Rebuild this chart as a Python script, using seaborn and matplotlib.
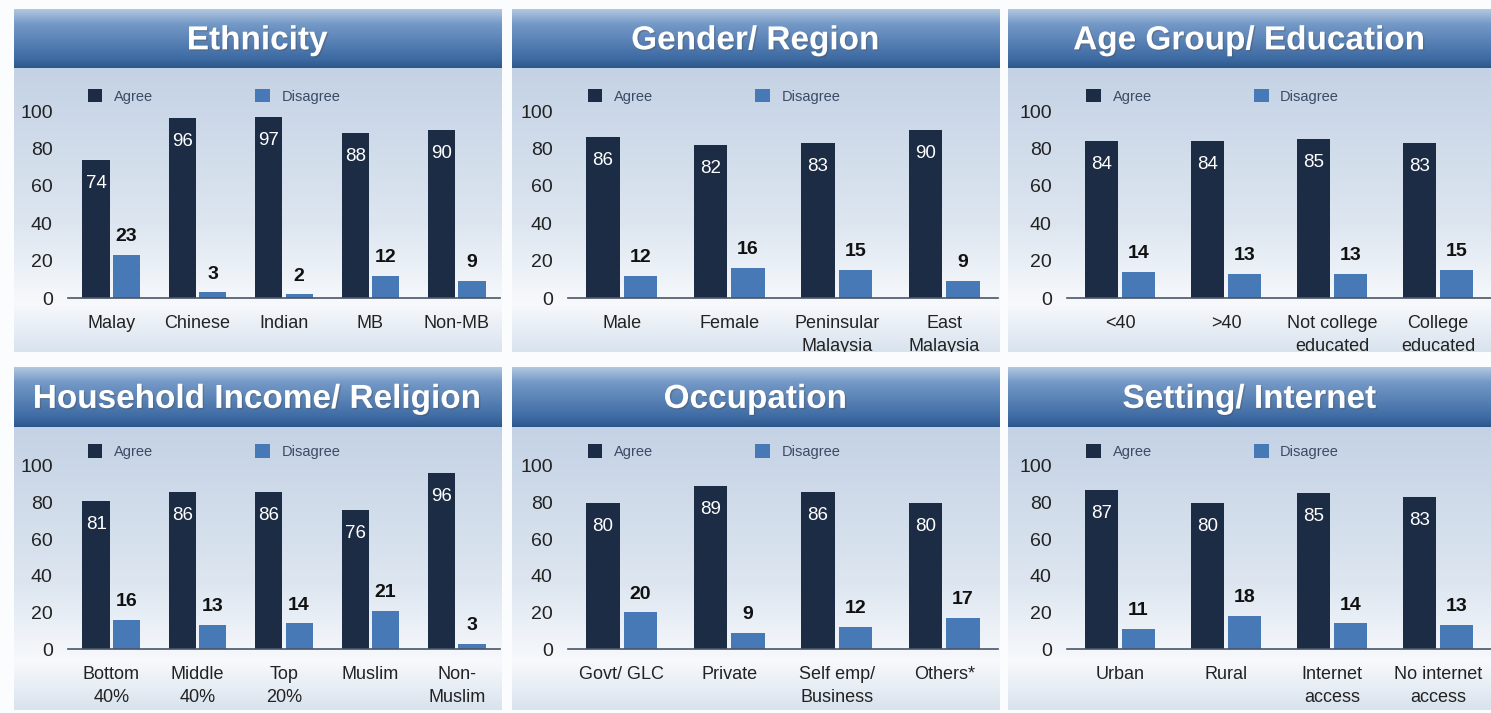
import matplotlib
matplotlib.use("Agg")
import matplotlib.pyplot as plt
import matplotlib.patheffects as pe
from matplotlib.colors import LinearSegmentedColormap
import numpy as np
import pandas as pd
import seaborn as sns

# --- data (% agree / % disagree) ---
ethnicity_cats = ["Malay", "Chinese", "Indian", "MB", "Non-MB"]
ethnicity_agree = [74, 96, 97, 88, 90]
ethnicity_disagree = [23, 3, 2, 12, 9]

gender_cats = ["Male", "Female", "Peninsular\nMalaysia", "East\nMalaysia"]
gender_agree = [86, 82, 83, 90]
gender_disagree = [12, 16, 15, 9]

age_cats = ["<40", ">40", "Not college\neducated", "College\neducated"]
age_agree = [84, 84, 85, 83]
age_disagree = [14, 13, 13, 15]

income_cats = ["Bottom\n40%", "Middle\n40%", "Top\n20%", "Muslim", "Non-\nMuslim"]
income_agree = [81, 86, 86, 76, 96]
income_disagree = [16, 13, 14, 21, 3]

occupation_cats = ["Govt/ GLC", "Private", "Self emp/\nBusiness", "Others*"]
occupation_agree = [80, 89, 86, 80]
occupation_disagree = [20, 9, 12, 17]

setting_cats = ["Urban", "Rural", "Internet\naccess", "No internet\naccess"]
setting_agree = [87, 80, 85, 83]
setting_disagree = [11, 18, 14, 13]

AGREE_COLOR = "#1d2c45"
DISAGREE_COLOR = "#4679b5"

W, H = 1491, 713

sns.set_style("white")
plt.rcParams["font.family"] = ["Liberation Sans", "DejaVu Sans"]

fig = plt.figure(figsize=(W / 100, H / 100), dpi=100)
fig.patch.set_facecolor("#fbfcfd")

body_cmap = LinearSegmentedColormap.from_list(
    "body", [(0, "#c4d2e5"), (0.55, "#dde6f0"), (0.83, "#f7f9fc"), (1, "#d9e3ee")])
head_cmap = LinearSegmentedColormap.from_list(
    "head", [(0, "#b4c8e0"), (0.25, "#7499c7"), (0.85, "#3d6aa3"), (1, "#2c5789")])
grad = np.linspace(0, 1, 256).reshape(-1, 1)


def px_axes(x0, y0, x1, y1):
    # pixel box with top-left origin -> figure axes
    return fig.add_axes([x0 / W, 1 - y1 / H, (x1 - x0) / W, (y1 - y0) / H])


def draw_panel(box, head_bottom, plot_box, title, cats, agree, disagree):
    x0, y0, x1, y1 = box
    bg = px_axes(x0, head_bottom, x1, y1)
    bg.imshow(grad, aspect="auto", cmap=body_cmap, extent=[0, 1, 0, 1])
    bg.axis("off")

    hd = px_axes(x0, y0, x1, head_bottom)
    hd.imshow(grad, aspect="auto", cmap=head_cmap, extent=[0, 1, 0, 1])
    hd.axis("off")
    hd.text(0.5, 0.46, title, ha="center", va="center", color="white",
            fontsize=24, fontweight="bold", transform=hd.transAxes,
            path_effects=[pe.withSimplePatchShadow(offset=(1, -1), alpha=0.35)])

    ax = px_axes(*plot_box)
    df = pd.DataFrame({"cat": cats, "Agree": agree, "Disagree": disagree})
    df = df.melt(id_vars="cat", var_name="resp", value_name="pct")
    sns.barplot(data=df, x="cat", y="pct", hue="resp",
                hue_order=["Agree", "Disagree"],
                palette=[AGREE_COLOR, DISAGREE_COLOR], saturation=1,
                width=0.7, gap=0.1, linewidth=0, ax=ax)
    ax.set_facecolor("none")
    ax.set_ylim(0, 100)
    ax.set_yticks(range(0, 101, 20))
    ax.set_xlabel("")
    ax.set_ylabel("")
    for s in ["left", "top", "right"]:
        ax.spines[s].set_visible(False)
    ax.spines["bottom"].set_color("#4a5568")
    ax.spines["bottom"].set_linewidth(1.2)
    ax.tick_params(axis="y", length=0, pad=11, labelsize=14, labelcolor="#222222")
    ax.tick_params(axis="x", length=0, pad=12, labelsize=13, labelcolor="#222222")
    for lbl in ax.get_xticklabels():
        lbl.set_linespacing(1.45)
        lbl.set_verticalalignment("top")
        lbl.set_clip_on(True)
        lbl.set_clip_box(bg.bbox)

    ax.bar_label(ax.containers[0], padding=-23, color="white", fontsize=13.5)
    ax.bar_label(ax.containers[1], padding=7, color="#111111", fontsize=14,
                 fontweight="bold")

    sns.move_legend(ax, "center left", bbox_to_anchor=(0.015, 1.078), ncol=2,
                    frameon=False, title=None, fontsize=10.5, columnspacing=7.0,
                    handlelength=1.0, handleheight=1.0, handletextpad=0.8)
    for t in ax.get_legend().get_texts():
        t.set_color("#3b4a66")
    return ax


draw_panel((14, 9, 501, 352), 68, (68, 111, 500, 298), "Ethnicity",
           ethnicity_cats, ethnicity_agree, ethnicity_disagree)
draw_panel((512, 9, 999, 352), 68, (568, 111, 998, 298), "Gender/ Region",
           gender_cats, gender_agree, gender_disagree)
draw_panel((1008, 9, 1491, 352), 68, (1067, 111, 1491, 298), "Age Group/ Education",
           age_cats, age_agree, age_disagree)
draw_panel((14, 367, 501, 710), 427, (68, 466, 500, 649), "Household Income/ Religion",
           income_cats, income_agree, income_disagree)
draw_panel((512, 367, 999, 710), 427, (568, 466, 998, 649), "Occupation",
           occupation_cats, occupation_agree, occupation_disagree)
draw_panel((1008, 367, 1491, 710), 427, (1067, 466, 1491, 649), "Setting/ Internet",
           setting_cats, setting_agree, setting_disagree)

fig.savefig("out.png", dpi=100, facecolor=fig.get_facecolor())
